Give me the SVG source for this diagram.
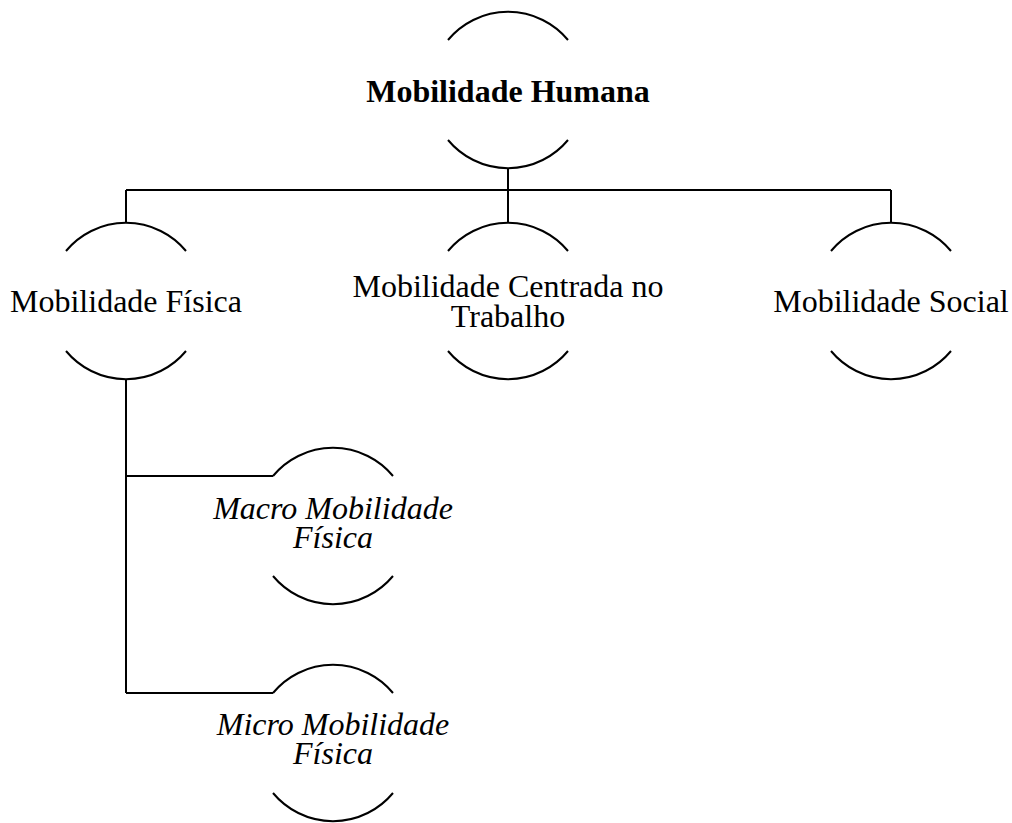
<svg xmlns="http://www.w3.org/2000/svg" width="1012" height="823" viewBox="0 0 1012 823">
<style>
.arc{fill:none;stroke:#000;stroke-width:2}
.c{fill:none;stroke:#000;stroke-width:2}
text{font-family:"Liberation Serif","Times New Roman",serif;font-size:32px;fill:#000;text-anchor:middle}
.b{font-weight:bold}
.i{font-style:italic}
</style>
<rect width="1012" height="823" fill="#fff"/>
<g id="connectors">
<path class="c" d="M508,168 V190 M126,190 H891 M126,190 V223 M508,190 V223 M891,190 V223"/>
<path class="c" d="M126,379 V693 M126,476 H273 M126,693 H273"/>
</g>
<g id="n-humana">
<path class="arc" d="M448,40 A78,78 0 0 1 568,40 M448,140 A78,78 0 0 0 568,140"/>
<text class="b" x="508" y="102">Mobilidade Humana</text>
</g>
<g id="n-fisica">
<path class="arc" d="M66,251 A78,78 0 0 1 186,251 M66,351 A78,78 0 0 0 186,351"/>
<text x="126" y="312">Mobilidade Física</text>
</g>
<g id="n-trabalho">
<path class="arc" d="M448,251 A78,78 0 0 1 568,251 M448,351 A78,78 0 0 0 568,351"/>
<text x="508" y="297">Mobilidade Centrada no</text>
<text x="508" y="327">Trabalho</text>
</g>
<g id="n-social">
<path class="arc" d="M831,251 A78,78 0 0 1 951,251 M831,351 A78,78 0 0 0 951,351"/>
<text x="891" y="312">Mobilidade Social</text>
</g>
<g id="n-macro">
<path class="arc" d="M273,476 A78,78 0 0 1 393,476 M273,576 A78,78 0 0 0 393,576"/>
<text class="i" x="333" y="519">Macro Mobilidade</text>
<text class="i" x="333" y="548">Física</text>
</g>
<g id="n-micro">
<path class="arc" d="M273,693 A78,78 0 0 1 393,693 M273,793 A78,78 0 0 0 393,793"/>
<text class="i" x="333" y="735">Micro Mobilidade</text>
<text class="i" x="333" y="764">Física</text>
</g>
</svg>
